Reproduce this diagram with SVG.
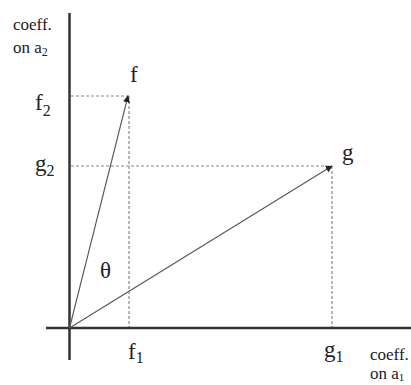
<svg xmlns="http://www.w3.org/2000/svg" width="411" height="385" viewBox="0 0 411 385">
<style>
.axis{stroke:#333;stroke-width:2.5;fill:none}
.vec{stroke:#555;stroke-width:1.1;fill:none}
.guide{stroke:#888;stroke-width:1.2;stroke-dasharray:3,2;fill:none}
.lbl{font-family:"Liberation Serif","Times New Roman",serif;fill:#222}
.big{font-size:23px}
.small{font-size:17px}
</style>
<defs>
<marker id="ah" viewBox="0 0 10 10" refX="9" refY="5" markerWidth="7" markerHeight="7" markerUnits="userSpaceOnUse" orient="auto">
<path d="M0,0 L10,5 L0,10 z" fill="#222"/>
</marker>
</defs>
<rect width="411" height="385" fill="#fff"/>
<g id="connectors">
<line class="guide" x1="71" y1="96" x2="129" y2="96"/>
<line class="guide" x1="129" y1="96" x2="129" y2="327"/>
<line class="guide" x1="71" y1="166" x2="332" y2="166"/>
<line class="guide" x1="332" y1="166" x2="332" y2="327"/>
<line class="axis" x1="69.5" y1="13" x2="69.5" y2="360"/>
<line class="axis" x1="46" y1="328" x2="411" y2="328"/>
<line class="vec" x1="69.5" y1="328" x2="128" y2="96" marker-end="url(#ah)"/>
<line class="vec" x1="69.5" y1="328" x2="332" y2="166" marker-end="url(#ah)"/>
</g>
<g id="label-y-axis">
<text class="lbl small" x="13" y="30">coeff.</text>
<text class="lbl small" x="13" y="53">on a<tspan font-size="12" dy="3">2</tspan></text>
</g>
<g id="node-f"><text class="lbl big" x="130" y="82">f</text></g>
<g id="node-g"><text class="lbl big" x="342" y="160">g</text></g>
<g id="label-f2"><text class="lbl big" x="35" y="110">f<tspan font-size="16" dy="6">2</tspan></text></g>
<g id="label-g2"><text class="lbl big" x="35" y="171">g<tspan font-size="16" dy="5">2</tspan></text></g>
<g id="label-theta"><text class="lbl big" x="100" y="278">θ</text></g>
<g id="label-f1"><text class="lbl big" x="128" y="359">f<tspan font-size="16" dy="4">1</tspan></text></g>
<g id="label-g1"><text class="lbl big" x="324" y="357">g<tspan font-size="16" dy="5">1</tspan></text></g>
<g id="label-x-axis">
<text class="lbl small" x="370" y="360">coeff.</text>
<text class="lbl small" x="370" y="379">on a<tspan font-size="11" dy="2">1</tspan></text>
</g>
</svg>
